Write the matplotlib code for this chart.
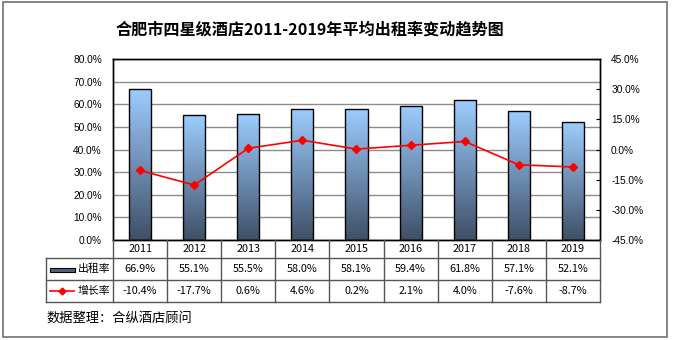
import numpy as np
import matplotlib.pyplot as plt
from matplotlib.colors import LinearSegmentedColormap
from matplotlib.patches import Rectangle
from matplotlib.lines import Line2D

plt.rcParams['font.family'] = ['Liberation Sans', 'Noto Sans CJK SC', 'DejaVu Sans']

# data
years = ['2011', '2012', '2013', '2014', '2015', '2016', '2017', '2018', '2019']
occupancy = [66.9, 55.1, 55.5, 58.0, 58.1, 59.4, 61.8, 57.1, 52.1]
growth = [-10.4, -17.7, 0.6, 4.6, 0.2, 2.1, 4.0, -7.6, -8.7]
title = '合肥市四星级酒店2011-2019年平均出租率变动趋势图'
row_labels = ['出租率', '增长率']
source = '数据整理：合纵酒店顾问'

W, H = 673, 340
fig = plt.figure(figsize=(W / 100, H / 100), dpi=100)

def fx(px):
    return px / W

def fy(py):
    return 1 - py / H

# plot area
left, right, top, bottom = 113, 600, 59, 240
ax = fig.add_axes([fx(left), fy(bottom), fx(right - left), (bottom - top) / H])
ax2 = ax.twinx()

n = len(years)
x = np.arange(n)
ax.set_yticks(np.arange(0, 81, 10))
ax.set_yticklabels([f'{v:.1f}%' for v in np.arange(0, 81, 10)])
ax.yaxis.grid(True, color='#8c8c8c', linewidth=1)
ax.set_axisbelow(True)
ax.set_xticks([])
ax.tick_params(axis='y', length=0, labelsize=7.3, pad=8)

# bars with a vertical gradient fill
cmap = LinearSegmentedColormap.from_list('bar', ['#3f4f66', '#6f8fb5', '#9ccdff'])
grad = np.linspace(0, 1, 256).reshape(-1, 1)
bw = 0.41
bars = ax.bar(x, occupancy, width=bw, color='none', edgecolor='black', linewidth=1, zorder=3)
for b in bars:
    bx, by = b.get_x(), b.get_y()
    im = ax.imshow(grad, cmap=cmap, origin='lower', aspect='auto',
                   extent=[bx, bx + b.get_width(), by, by + b.get_height()], zorder=2)
    im.set_clip_path(b)
ax.set_xlim(-0.5, n - 0.5)
ax.set_ylim(0, 80)

ax2.set_ylim(-45, 45)
ax2.set_yticks(np.arange(-45, 46, 15))
ax2.set_yticklabels([f'{v:.1f}%' for v in np.arange(-45, 46, 15)])
ax2.tick_params(axis='y', direction='in', length=3, labelsize=7.3, pad=8)
ax2.plot(x, growth, color='#ff0000', linewidth=1.2, marker='D', markersize=4, zorder=5)

for a in (ax, ax2):
    for s in a.spines.values():
        s.set_linewidth(1)
        s.set_color('black')

# data table below the axes
lc = '#555555'
tleft = 46
cw = (right - left) / n
fig.add_artist(Line2D([fx(tleft), fx(right)], [fy(258), fy(258)], color=lc, lw=1))
for yy in (280, 302):
    fig.add_artist(Line2D([fx(tleft), fx(right)], [fy(yy), fy(yy)], color=lc, lw=1))
fig.add_artist(Line2D([fx(tleft), fx(tleft)], [fy(258), fy(302)], color=lc, lw=1))
for i in range(n + 1):
    xx = left + i * cw
    fig.add_artist(Line2D([fx(xx), fx(xx)], [fy(240), fy(302)], color=lc, lw=1))

tfont = dict(family=['Noto Sans CJK SC', 'DejaVu Sans'], fontsize=7.8, ha='center', va='center')
for i in range(n):
    cx = left + (i + 0.5) * cw
    fig.text(fx(cx), fy(249), years[i], **tfont)
    fig.text(fx(cx), fy(269), f'{occupancy[i]:.1f}%', **tfont)
    fig.text(fx(cx), fy(291), f'{growth[i]:.1f}%', **tfont)

# legend keys inside the label column
fig.add_artist(Rectangle((fx(50), fy(272)), fx(25), 4 / H, transform=fig.transFigure,
                         facecolor='#4f6583', edgecolor='black', lw=0.8))
fig.text(fx(94), fy(269), row_labels[0], **tfont)
fig.add_artist(Line2D([fx(50), fx(62), fx(74)], [fy(291)] * 3, color='#ff0000', lw=1.2,
                      marker='D', markersize=3.5, markevery=[1]))
fig.text(fx(94), fy(291), row_labels[1], **tfont)

# title and source
fig.text(fx(310), fy(30), title, family=['Noto Sans CJK SC', 'DejaVu Sans'],
         fontsize=11.6, fontweight='bold', ha='center', va='center')
fig.text(fx(46), fy(318), source, family=['Noto Sans CJK SC', 'DejaVu Sans'],
         fontsize=9.5, ha='left', va='center')

# outer frame
fig.add_artist(Rectangle((fx(3), fy(337)), fx(664), 335 / H, transform=fig.transFigure,
                         facecolor='none', edgecolor='#707070', lw=1.2))

fig.savefig('out.png', dpi=100)
